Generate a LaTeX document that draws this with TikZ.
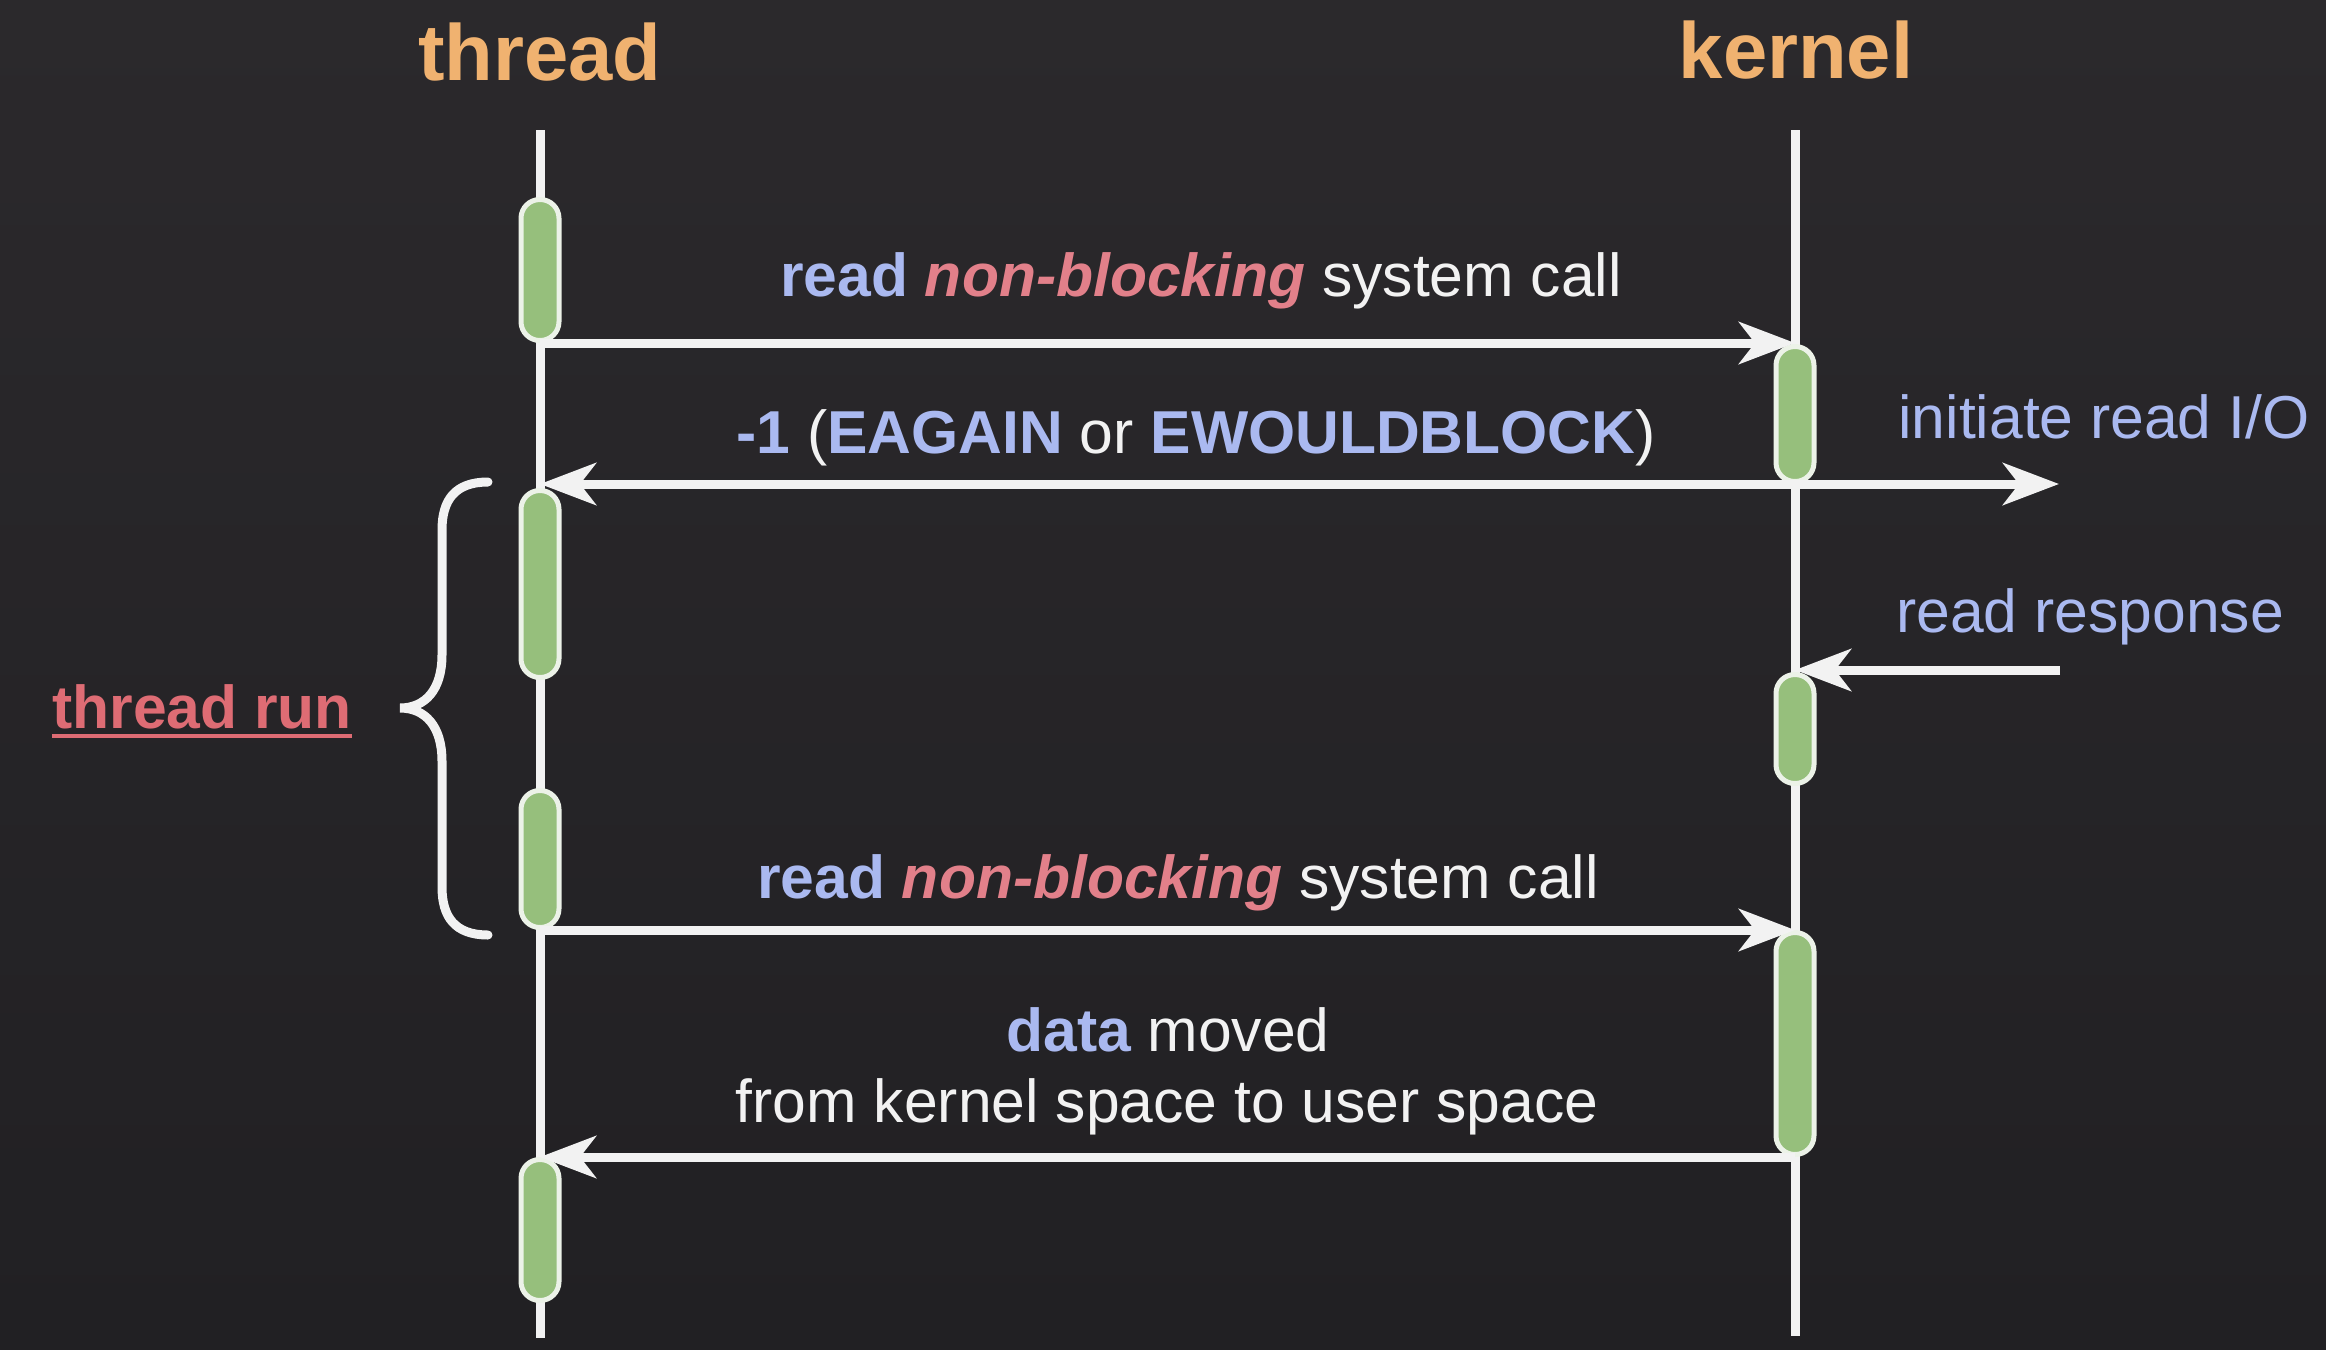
\documentclass[tikz,border=0pt]{standalone}
\usepackage{fontspec}
\setmainfont{Liberation Sans}
\usetikzlibrary{arrows.meta}
\definecolor{bgtop}{RGB}{43,41,44}
\definecolor{bgbot}{RGB}{33,32,35}
\definecolor{ttl}{RGB}{240,178,112}
\definecolor{blu}{RGB}{170,185,240}
\definecolor{pnk}{RGB}{226,128,138}
\definecolor{runred}{RGB}{222,108,116}
\definecolor{grn}{RGB}{150,191,124}
\definecolor{rim}{RGB}{236,242,232}
\definecolor{wht}{RGB}{242,242,242}
\newcommand\bluebf[1]{{\bfseries\color{blu}#1}}
\newcommand\pinkbi[1]{{\bfseries\itshape\color{pnk}#1}}
\begin{document}
\begin{tikzpicture}[x=0.5pt,y=-0.5pt,
  life/.style={draw=wht,line width=4.5pt},
  act/.style={draw=rim,fill=grn,line width=2.5pt,rectangle,rounded corners=9.4pt,minimum width=19pt,inner sep=0pt},
  msg/.style={draw=wht,line width=4.5pt,-{Stealth[length=28pt,width=21pt,inset=8pt]}},
  lbl/.style={text=wht,font=\fontsize{30.3}{36}\selectfont,inner sep=0pt,anchor=base},
  side/.style={text=blu,font=\fontsize{30.3}{36}\selectfont,inner sep=0pt,anchor=base west},
  ttlstyle/.style={text=ttl,font=\fontsize{39.8}{46}\selectfont\bfseries,inner sep=0pt,anchor=base},
]
% background
\shade[top color=bgtop,bottom color=bgbot] (0,0) rectangle (2326,1350);
\useasboundingbox (0,0) rectangle (2326,1350);

% titles
\node[ttlstyle] (thread) at (540,80) {thread};
\node[ttlstyle] (kernel) at (1796,78) {kernel};

% lifelines
\coordinate (tTop) at (540,130);
\coordinate (tBot) at (540,1338);
\coordinate (kTop) at (1795,130);
\coordinate (kBot) at (1795,1336);
\draw[life] (tTop) -- (tBot);
\draw[life] (kTop) -- (kBot);

% activation boxes
\node[act,minimum height=70.5pt] (T1) at (540,270) {};
\node[act,minimum height=93.5pt] (T2) at (540,584) {};
\node[act,minimum height=68.5pt] (T3) at (540,859) {};
\node[act,minimum height=70.5pt] (T4) at (540,1230) {};
\node[act,minimum height=67.5pt] (K1) at (1795,414) {};
\node[act,minimum height=54.5pt] (K2) at (1795,729) {};
\node[act,minimum height=111pt] (K3) at (1795,1043.5) {};

% free ends
\path (K1.south) ++(264,0) coordinate (ioOut);
\coordinate (respIn) at (2060,670);

% messages
\draw[msg] (T1.south) -- (T1.south -| K1.north);
\draw[msg] (K1.south) -- (K1.south -| T2.north);
\draw[msg] (K1.south) -- (ioOut);
\draw[msg] (respIn) -- (respIn -| K2.north);
\draw[msg] (T3.south) -- (T3.south -| K3.north);
\draw[msg] (K3.south) -- (K3.south -| T4.north);

% labels
\node[lbl] (l1) at (1201,296) {\bluebf{read} \pinkbi{non-blocking} system call};
\node[lbl] (l2) at (1196,453) {\bluebf{-1} (\bluebf{EAGAIN} or \bluebf{EWOULDBLOCK})};
\node[lbl] (l4) at (1178,898) {\bluebf{read} \pinkbi{non-blocking} system call};
\node[lbl] (l5a) at (1168,1051) {\bluebf{data} moved};
\node[lbl] (l5b) at (1167,1122) {from kernel space to user space};
\node[side] (io) at (1898,438) {initiate read I/O};
\node[side] (resp) at (1896,632) {read response};

% brace
\draw[wht,line width=4.5pt,line cap=round]
  (488,482) .. controls (455,482) and (442,500) .. (442,530)
  -- (442,655) .. controls (442,690) and (425,708) .. (400,708)
  .. controls (425,708) and (442,726) .. (442,761)
  -- (442,887) .. controls (442,917) and (455,935) .. (488,935);

% thread run
\node[anchor=base west,inner sep=0pt,text=runred,font=\fontsize{30.3}{36}\selectfont\bfseries] (run) at (52,728) {thread run};
\draw[runred,line width=2pt] ([yshift=-3.8pt]run.base west) -- ([yshift=-3.8pt]run.base east);
\end{tikzpicture}
\end{document}
